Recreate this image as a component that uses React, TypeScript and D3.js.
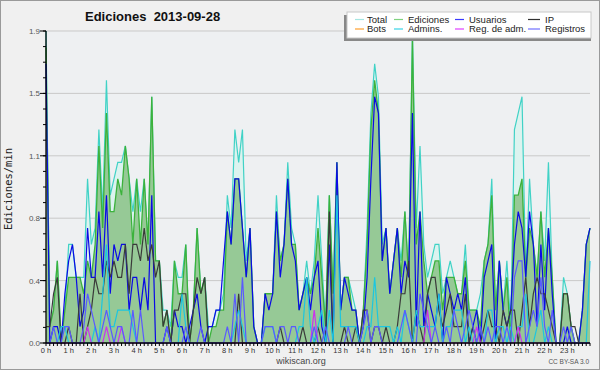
import React from 'react';
import * as d3 from 'd3';

// Ediciones por minuto, tramos de 10 min (0 h .. 24 h)
const total = [
  1.9, 0.1, 0.2, 0.5, 0.0, 0.2, 0.6, 0.6, 0.4, 0.4, 0.4, 1.0,
  0.6, 0.7, 1.3, 0.8, 1.6, 0.9, 1.0, 1.1, 1.1, 1.2, 1.0, 0.8,
  1.0, 0.8, 1.0, 0.6, 1.5, 0.5, 0.5, 0.2, 0.2, 0.1, 0.5, 0.4,
  0.4, 0.6, 0.0, 0.2, 0.7, 0.3, 0.4, 0.1, 0.1, 0.2, 0.2, 0.3,
  0.9, 0.7, 1.3, 1.1, 1.3, 0.5, 0.7, 0.1, 0.0, 0.0, 0.3, 0.3,
  0.3, 0.9, 0.5, 0.6, 1.1, 0.7, 0.6, 0.2, 0.3, 0.5, 0.3, 0.5,
  0.9, 0.5, 0.1, 0.9, 0.3, 1.1, 0.2, 0.4, 0.4, 0.3, 0.2, 0.0,
  0.2, 0.7, 1.4, 1.7, 1.5, 0.6, 0.7, 0.3, 0.5, 0.7, 0.5, 0.8,
  0.4, 1.9, 0.7, 1.2, 0.6, 0.4, 0.5, 0.6, 0.6, 0.3, 0.4, 0.5,
  0.4, 0.3, 0.3, 0.6, 0.2, 0.2, 0.2, 0.3, 0.5, 0.6, 1.0, 0.2,
  0.5, 0.2, 0.5, 0.1, 1.3, 1.4, 1.5, 0.4, 1.0, 0.6, 0.4, 0.8,
  0.5, 1.1, 0.4, 0.0, 0.0, 0.4, 0.3, 0.1, 0.0, 0.0, 0.2, 0.6, 0.7,
];
const ediciones = [
  1.8, 0.1, 0.2, 0.5, 0.0, 0.2, 0.4, 0.4, 0.4, 0.4, 0.3, 0.5,
  0.4, 0.6, 1.2, 0.7, 1.4, 0.8, 0.8, 1.0, 0.9, 1.2, 1.0, 0.6,
  1.0, 0.6, 1.0, 0.6, 1.5, 0.5, 0.5, 0.1, 0.2, 0.0, 0.5, 0.3,
  0.3, 0.6, 0.0, 0.2, 0.7, 0.3, 0.4, 0.0, 0.1, 0.1, 0.2, 0.2,
  0.8, 0.6, 1.0, 1.0, 0.7, 0.4, 0.7, 0.1, 0.0, 0.0, 0.3, 0.3,
  0.3, 0.8, 0.5, 0.6, 1.0, 0.6, 0.6, 0.2, 0.3, 0.4, 0.3, 0.4,
  0.7, 0.4, 0.1, 0.9, 0.3, 1.1, 0.2, 0.4, 0.4, 0.2, 0.2, 0.0,
  0.2, 0.6, 1.3, 1.6, 1.4, 0.5, 0.7, 0.3, 0.5, 0.7, 0.4, 0.8,
  0.4, 1.85, 0.6, 0.8, 0.5, 0.3, 0.4, 0.5, 0.5, 0.2, 0.4, 0.4,
  0.4, 0.3, 0.3, 0.5, 0.2, 0.2, 0.2, 0.1, 0.5, 0.6, 0.9, 0.2,
  0.5, 0.2, 0.4, 0.0, 0.9, 0.9, 1.0, 0.4, 0.7, 0.6, 0.4, 0.8,
  0.4, 0.7, 0.4, 0.0, 0.0, 0.3, 0.3, 0.1, 0.0, 0.0, 0.2, 0.6, 0.7,
];
const usuarios = [
  1.7, 0.0, 0.1, 0.1, 0.0, 0.3, 0.5, 0.6, 0.4, 0.1, 0.2, 0.7,
  0.4, 0.4, 0.8, 0.4, 0.9, 0.3, 0.6, 0.5, 0.6, 0.6, 0.2, 0.4,
  0.4, 0.2, 0.4, 0.2, 0.9, 0.0, 0.0, 0.0, 0.1, 0.0, 0.2, 0.1,
  0.1, 0.0, 0.1, 0.2, 0.3, 0.1, 0.0, 0.1, 0.1, 0.2, 0.2, 0.5,
  0.8, 0.6, 1.0, 1.0, 0.7, 0.4, 0.7, 0.1, 0.0, 0.0, 0.3, 0.2,
  0.3, 0.8, 0.4, 0.6, 1.0, 0.6, 0.5, 0.2, 0.3, 0.4, 0.2, 0.4,
  0.5, 0.1, 0.0, 0.6, 0.0, 1.1, 0.2, 0.4, 0.3, 0.2, 0.2, 0.0,
  0.1, 0.4, 1.0, 1.5, 1.4, 0.5, 0.7, 0.3, 0.5, 0.7, 0.3, 0.5,
  0.4, 1.4, 0.1, 0.8, 0.1, 0.3, 0.2, 0.1, 0.3, 0.0, 0.4, 0.3,
  0.2, 0.3, 0.2, 0.4, 0.0, 0.1, 0.2, 0.0, 0.4, 0.5, 0.6, 0.0,
  0.5, 0.2, 0.1, 0.2, 0.6, 0.8, 0.7, 0.4, 0.8, 0.6, 0.1, 0.6,
  0.2, 0.7, 0.3, 0.0, 0.0, 0.0, 0.1, 0.0, 0.0, 0.0, 0.2, 0.6, 0.7,
];
const ip = [
  0.1, 0.1, 0.3, 0.4, 0.0, 0.0, 0.1, 0.0, 0.0, 0.3, 0.0, 0.1,
  0.2, 0.4, 0.3, 0.3, 0.5, 0.4, 0.5, 0.4, 0.4, 0.6, 0.3, 0.6,
  0.6, 0.5, 0.7, 0.5, 0.6, 0.4, 0.5, 0.1, 0.2, 0.0, 0.2, 0.2,
  0.3, 0.3, 0.0, 0.2, 0.4, 0.3, 0.4, 0.0, 0.0, 0.0, 0.0, 0.0,
  0.0, 0.0, 0.0, 0.3, 0.0, 0.0, 0.0, 0.0, 0.0, 0.0, 0.0, 0.0,
  0.0, 0.0, 0.1, 0.0, 0.0, 0.0, 0.0, 0.0, 0.1, 0.0, 0.0, 0.0,
  0.1, 0.0, 0.0, 0.8, 0.0, 0.0, 0.0, 0.1, 0.0, 0.0, 0.1, 0.0,
  0.2, 0.2, 0.0, 0.1, 0.1, 0.0, 0.1, 0.0, 0.0, 0.1, 0.3, 0.3,
  0.5, 0.0, 0.2, 0.1, 0.0, 0.3, 0.4, 0.4, 0.2, 0.1, 0.2, 0.3,
  0.1, 0.1, 0.1, 0.3, 0.0, 0.1, 0.0, 0.0, 0.1, 0.2, 0.1, 0.1,
  0.0, 0.2, 0.1, 0.2, 0.2, 0.0, 0.2, 0.4, 0.1, 0.3, 0.4, 0.3,
  0.3, 0.2, 0.1, 0.0, 0.0, 0.3, 0.3, 0.1, 0.1, 0.0, 0.0, 0.0, 0.0,
];
const admins = [
  0.0, 0.0, 0.0, 0.0, 0.1, 0.1, 0.0, 0.0, 0.0, 0.0, 0.0, 0.0,
  0.0, 0.1, 0.0, 0.3, 0.6, 0.1, 0.1, 0.2, 0.2, 0.2, 0.2, 0.1,
  0.0, 0.0, 0.0, 0.0, 0.0, 0.0, 0.0, 0.0, 0.0, 0.0, 0.0, 0.0,
  0.3, 0.1, 0.0, 0.0, 0.0, 0.0, 0.0, 0.0, 0.0, 0.0, 0.0, 0.0,
  0.0, 0.0, 0.1, 0.2, 0.1, 0.0, 0.0, 0.0, 0.0, 0.0, 0.1, 0.1,
  0.1, 0.0, 0.0, 0.0, 0.0, 0.0, 0.0, 0.1, 0.1, 0.4, 0.1, 0.0,
  0.1, 0.2, 0.0, 0.2, 0.0, 0.9, 0.1, 0.1, 0.1, 0.1, 0.1, 0.0,
  0.0, 0.1, 0.1, 0.4, 0.1, 0.1, 0.1, 0.1, 0.0, 0.1, 0.0, 0.2,
  0.1, 0.0, 0.2, 0.1, 0.1, 0.1, 0.1, 0.1, 0.3, 0.0, 0.1, 0.1,
  0.2, 0.2, 0.2, 0.0, 0.1, 0.0, 0.0, 0.0, 0.0, 0.2, 0.2, 0.0,
  0.1, 0.1, 0.0, 0.1, 0.0, 0.1, 0.1, 0.3, 0.0, 0.0, 0.1, 0.2,
  0.0, 0.1, 0.0, 0.0, 0.0, 0.0, 0.0, 0.0, 0.0, 0.0, 0.0, 0.0, 0.5,
];
const registros = [
  0.0, 0.0, 0.1, 0.0, 0.0, 0.1, 0.1, 0.0, 0.0, 0.0, 0.1, 0.3,
  0.2, 0.1, 0.0, 0.1, 0.2, 0.1, 0.0, 0.1, 0.1, 0.0, 0.0, 0.2,
  0.0, 0.2, 0.0, 0.0, 0.0, 0.0, 0.0, 0.0, 0.1, 0.0, 0.0, 0.0,
  0.0, 0.1, 0.0, 0.0, 0.0, 0.1, 0.0, 0.0, 0.0, 0.0, 0.0, 0.0,
  0.1, 0.0, 0.3, 0.0, 0.4, 0.0, 0.0, 0.0, 0.0, 0.0, 0.1, 0.1,
  0.1, 0.0, 0.1, 0.1, 0.0, 0.1, 0.1, 0.0, 0.0, 0.0, 0.0, 0.1,
  0.0, 0.0, 0.1, 0.0, 0.0, 0.0, 0.0, 0.0, 0.1, 0.0, 0.0, 0.0,
  0.1, 0.2, 0.0, 0.1, 0.1, 0.0, 0.0, 0.0, 0.0, 0.0, 0.1, 0.2,
  0.1, 0.0, 0.0, 0.3, 0.2, 0.1, 0.0, 0.1, 0.0, 0.0, 0.1, 0.0,
  0.2, 0.1, 0.0, 0.1, 0.2, 0.1, 0.0, 0.1, 0.0, 0.1, 0.0, 0.1,
  0.1, 0.0, 0.1, 0.0, 0.4, 0.5, 0.5, 0.0, 0.1, 0.2, 0.1, 0.4,
  0.1, 0.0, 0.2, 0.0, 0.0, 0.1, 0.0, 0.1, 0.0, 0.0, 0.0, 0.0, 0.0,
];
const regAdm = [
  0, 0, 0, 0, 0, 0, 0, 0, 0, 0, 0, 0.1,
  0, 0, 0, 0, 0.1, 0, 0, 0, 0.1, 0, 0, 0,
  0, 0, 0, 0, 0, 0, 0, 0, 0, 0, 0, 0,
  0, 0, 0, 0, 0, 0, 0, 0, 0, 0, 0, 0,
  0, 0, 0, 0, 0, 0, 0, 0, 0, 0, 0, 0,
  0, 0, 0, 0, 0, 0, 0, 0, 0, 0, 0, 0.2,
  0, 0, 0, 0, 0, 0, 0, 0, 0, 0, 0, 0,
  0, 0, 0, 0, 0, 0, 0, 0, 0, 0, 0, 0,
  0, 0, 0, 0, 0, 0.2, 0, 0, 0, 0, 0, 0,
  0, 0, 0, 0, 0, 0, 0.1, 0, 0, 0, 0, 0,
  0, 0, 0, 0, 0, 0.1, 0, 0, 0, 0, 0, 0,
  0, 0, 0, 0, 0, 0, 0, 0, 0, 0, 0, 0, 0,
];

const hourLabels = [
  '0 h', '1 h', '2 h', '3 h', '4 h', '5 h', '6 h', '7 h', '8 h', '9 h', '10 h', '11 h',
  '12 h', '13 h', '14 h', '15 h', '16 h', '17 h', '18 h', '19 h', '20 h', '21 h', '22 h', '23 h',
];
const yTickValues = [0, 0.38, 0.76, 1.14, 1.52, 1.9];

const legendItems = [
  { label: 'Total', color: '#a6e6e2' },
  { label: 'Bots', color: '#ffa030' },
  { label: 'Ediciones', color: '#7fd27f' },
  { label: 'Admins.', color: '#3ad4e6' },
  { label: 'Usuarios', color: '#3a3aff' },
  { label: 'Reg. de adm.', color: '#e040ff' },
  { label: 'IP', color: '#303030' },
  { label: 'Registros', color: '#7070ff' },
];

const W = 600;
const H = 370;
const margin = { top: 31, right: 10, bottom: 27, left: 46 };
const sans = 'Liberation Sans, Arial, sans-serif';

export default function App() {
  const x = d3.scaleLinear().domain([0, 144]).range([margin.left, W - margin.right]);
  const y = d3.scaleLinear().domain([0, 1.9]).range([H - margin.bottom, margin.top]);
  const y0 = y(0);

  const area = d3.area<number>().x((_, i) => x(i)).y0(y0).y1(d => y(d));
  const line = d3.line<number>().x((_, i) => x(i)).y(d => y(d));

  const minorY = d3.range(0, 1.9001, 0.095);
  const xTicks = d3.range(0, 145);
  const fmt = d3.format('.1f');

  const series = [
    { data: usuarios, color: '#0a0ae6' },
    { data: ip, color: '#3a3a3a' },
    { data: admins, color: '#1cc6e0' },
    { data: regAdm, color: '#cc33ee' },
    { data: registros, color: '#5a5aff' },
  ];

  return (
    <div style={{ position: 'fixed', left: 0, top: 0 }}>
      <svg width={W} height={H} style={{ display: 'block' }}>
        <rect x={0.5} y={0.5} width={W - 1} height={H - 1} fill="#f0f0f0" stroke="#9a9a9a" />
        <rect x={margin.left} y={margin.top} width={W - margin.left - margin.right} height={y0 - margin.top} fill="#eef0f2" />

        {yTickValues.slice(1).map(v => (
          <line key={v} x1={margin.left} x2={W - margin.right} y1={y(v)} y2={y(v)} stroke="#c9c9c9" />
        ))}

        <path d={area(total) || ''} fill="#dcf3ef" />
        <path d={line(total) || ''} fill="none" stroke="#40d2c6" strokeWidth={1.2} />
        <path d={area(ediciones) || ''} fill="#96c996" />
        <path d={line(ediciones) || ''} fill="none" stroke="#3cb23c" strokeWidth={1.3} />
        {series.map((s, k) => (
          <path key={k} d={line(s.data) || ''} fill="none" stroke={s.color} strokeWidth={1.2} />
        ))}

        {/* Y axis */}
        <line x1={margin.left} x2={margin.left} y1={margin.top} y2={y0} stroke="#000" strokeWidth={1.3} />
        {minorY.map((v, i) => (
          <line key={i} x1={margin.left - 3} x2={margin.left} y1={y(v)} y2={y(v)} stroke="#000" />
        ))}
        {yTickValues.map(v => (
          <g key={v}>
            <line x1={margin.left - 6} x2={margin.left} y1={y(v)} y2={y(v)} stroke="#000" />
            <text x={margin.left - 6} y={y(v) + 3} textAnchor="end" fontSize={8} fill="#555" fontFamily={sans}>{fmt(v)}</text>
          </g>
        ))}
        <text transform={`translate(12, ${(margin.top + y0) / 2 + 2}) rotate(-90)`} textAnchor="middle" fontSize={10.5} fill="#222" fontFamily="DejaVu Sans Mono, monospace">Ediciones/min</text>

        {/* X axis */}
        <line x1={margin.left} x2={W - margin.right} y1={y0} y2={y0} stroke="#000" strokeWidth={1.3} />
        {xTicks.map(i => (
          <line key={i} x1={x(i)} x2={x(i)} y1={y0} y2={y0 + 3} stroke="#000" />
        ))}
        {hourLabels.map((h, i) => (
          <text key={h} x={x(i * 6)} y={y0 + 10} textAnchor="middle" fontSize={7.5} fill="#333" fontFamily={sans}>{h}</text>
        ))}
        <text x={301} y={364} textAnchor="middle" fontSize={9} fill="#444" fontFamily={sans}>wikiscan.org</text>
        <text x={589} y={364} textAnchor="end" fontSize={6.5} fill="#555" fontFamily={sans}>CC BY-SA 3.0</text>

        {/* Title */}
        <text x={85} y={21} fontSize={13} fontWeight="bold" fill="#111" fontFamily={sans} style={{ whiteSpace: 'pre' }}>Ediciones  2013-09-28</text>

        {/* Legend */}
        <rect x={344} y={15} width={247} height={26} fill="#888" />
        <rect x={347} y={12} width={244} height={26} fill="#fff" stroke="#c8c8c8" />
        {legendItems.map((it, k) => {
          const col = Math.floor(k / 2);
          const row = k % 2;
          const lx = [355, 394, 455, 528][col];
          const len = col === 3 ? 12 : 9;
          const tx = [367, 408, 469, 545][col];
          const ly = row === 0 ? 19.5 : 29;
          return (
            <g key={it.label}>
              <line x1={lx} x2={lx + len} y1={ly} y2={ly} stroke={it.color} strokeWidth={1.2} />
              <text x={tx} y={ly + 3.3} fontSize={9.5} fill="#222" fontFamily={sans}>{it.label}</text>
            </g>
          );
        })}
      </svg>
    </div>
  );
}
